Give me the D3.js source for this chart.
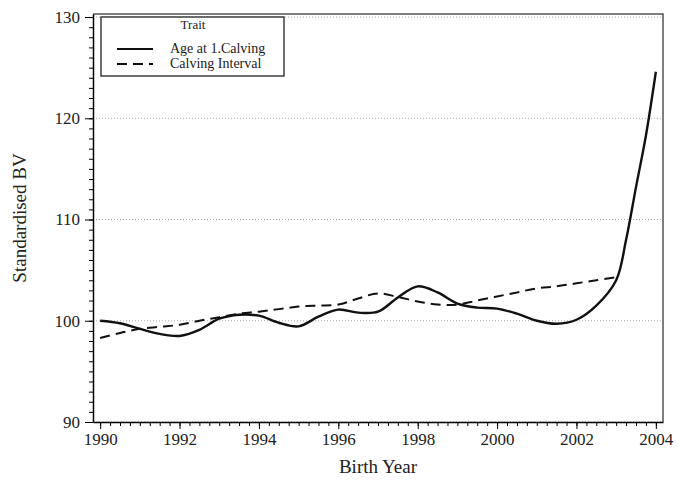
<!DOCTYPE html>
<html>
<head>
<meta charset="utf-8">
<script src="https://cdn.jsdelivr.net/npm/d3@7"></script>
<style>
  body { margin: 0; background: #fff; }
  svg text { font-family: "Liberation Serif", "DejaVu Serif", serif; fill: #222; }
</style>
</head>
<body>
<div class="chart"></div>
<script>
// Standardised breeding values by birth year, two traits.
var ageYears = [1990, 1990.5, 1991, 1991.5, 1992, 1992.5, 1993, 1993.5, 1994, 1994.5, 1995, 1995.5,
	1996, 1996.5, 1997, 1997.5, 1998, 1998.5, 1999, 1999.5, 2000, 2000.5, 2001, 2001.5, 2002, 2002.5,
	2003, 2003.25, 2003.5, 2003.75, 2004];
var ageValues = [100.0, 99.75, 99.2, 98.7, 98.5, 99.1, 100.2, 100.6, 100.5, 99.8, 99.45, 100.4,
	101.1, 100.8, 100.9, 102.3, 103.4, 102.8, 101.7, 101.3, 101.2, 100.7, 100.0, 99.7, 100.1, 101.5,
	104.0, 108.0, 113.2, 118.3, 124.6];

var intervalYears = [1990, 1990.5, 1991, 1991.5, 1992, 1992.5, 1993, 1993.5, 1994, 1994.5, 1995, 1995.5,
	1996, 1996.5, 1997, 1997.5, 1998, 1998.5, 1999, 1999.5, 2000, 2000.5, 2001, 2001.5, 2002, 2002.5, 2003];
var intervalValues = [98.3, 98.8, 99.2, 99.4, 99.6, 100.0, 100.35, 100.7, 100.9, 101.15, 101.4, 101.5,
	101.6, 102.2, 102.7, 102.35, 101.9, 101.6, 101.6, 102.0, 102.4, 102.8, 103.2, 103.4, 103.7, 104.0, 104.3];

var xTicks = [1990, 1992, 1994, 1996, 1998, 2000, 2002, 2004];
var yTicks = [90, 100, 110, 120, 130];
var seriesNames = ["Age at 1.Calving", "Calving Interval"];

var width = 678,
	height = 482,
	margin = {top: 14, right: 15, bottom: 60, left: 93},
	svg = d3.select(".chart").append("svg")
		.attr("width", width)
		.attr("height", height);

var x = d3.scaleLinear().domain([1989.82, 2004.18]).range([margin.left, width - margin.right]),
	y = d3.scaleLinear().domain([90, 130.3]).range([height - margin.bottom, margin.top]);

// dotted grid
svg.selectAll(".grid")
	.data(yTicks)
	.enter().append("line")
		.attr("class", "grid")
		.attr("x1", x.range()[0])
		.attr("x2", x.range()[1])
		.attr("y1", function(d) {return y(d);})
		.attr("y2", function(d) {return y(d);})
		.style("stroke", "#aaa")
		.style("stroke-width", 1)
		.style("stroke-dasharray", "1,2");

// frame top and right
svg.append("path")
	.attr("d", "M" + x.range()[0] + "," + y.range()[1] + "H" + x.range()[1] + "V" + y.range()[0])
	.style("fill", "none")
	.style("stroke", "#555")
	.style("stroke-width", 1.5);

// minor ticks
svg.append("g")
	.attr("transform", "translate(0," + y.range()[0] + ")")
	.call(d3.axisBottom(x).tickValues(d3.range(1990, 2004.01, 0.25)).tickSize(4).tickFormat(""))
	.call(function(g) {g.select(".domain").remove();});

svg.append("g")
	.attr("transform", "translate(" + x.range()[0] + ",0)")
	.call(d3.axisLeft(y).tickValues(d3.range(90, 130.01, 1)).tickSize(4).tickFormat(""))
	.call(function(g) {g.select(".domain").remove();});

// major axes
svg.append("g")
	.attr("class", "axis axis--x")
	.attr("transform", "translate(0," + y.range()[0] + ")")
	.style("font-size", "17px")
	.call(d3.axisBottom(x).tickValues(xTicks).tickFormat(d3.format("d")).tickSize(7).tickSizeOuter(0).tickPadding(4))
	.call(function(g) {g.select(".domain").style("stroke-width", 1.5);});

svg.append("g")
	.attr("class", "axis axis--y")
	.attr("transform", "translate(" + x.range()[0] + ",0)")
	.style("font-size", "17px")
	.call(d3.axisLeft(y).tickValues(yTicks).tickSize(8).tickSizeOuter(0).tickPadding(5))
	.call(function(g) {g.select(".domain").style("stroke-width", 1.5);});

svg.selectAll(".axis text").style("font-family", "Liberation Serif").attr("fill", "#222");

var line = d3.line()
	.x(function(d) {return x(d[0]);})
	.y(function(d) {return y(d[1]);})
	.curve(d3.curveCatmullRom.alpha(0.5));

svg.append("path")
	.datum(d3.zip(intervalYears, intervalValues))
	.attr("d", line)
	.style("fill", "none")
	.style("stroke", "#111")
	.style("stroke-width", 2)
	.style("stroke-dasharray", "10,6");

svg.append("path")
	.datum(d3.zip(ageYears, ageValues))
	.attr("d", line)
	.style("fill", "none")
	.style("stroke", "#111")
	.style("stroke-width", 2.4);

// legend
var legend = svg.append("g").attr("transform", "translate(101,17)");
legend.append("rect")
	.attr("width", 183)
	.attr("height", 59)
	.style("fill", "#fff")
	.style("stroke", "#222")
	.style("stroke-width", 1.3);
legend.append("text")
	.attr("x", 92)
	.attr("y", 12)
	.style("text-anchor", "middle")
	.style("font-size", "13px")
	.text("Trait");
legend.selectAll(".legline")
	.data(seriesNames)
	.enter().append("line")
		.attr("x1", 16)
		.attr("x2", 52)
		.attr("y1", function(d, i) {return 32 + i * 15;})
		.attr("y2", function(d, i) {return 32 + i * 15;})
		.style("stroke", "#111")
		.style("stroke-width", 2)
		.style("stroke-dasharray", function(d, i) {return i ? "10,6" : null;});
legend.selectAll(".legtext")
	.data(seriesNames)
	.enter().append("text")
		.attr("x", 69)
		.attr("y", function(d, i) {return 36 + i * 15;})
		.style("font-size", "14px")
		.text(function(d) {return d;});

// axis titles
svg.append("text")
	.attr("transform", "translate(" + ((x.range()[0] + x.range()[1]) / 2) + "," + 473 + ")")
	.style("text-anchor", "middle")
	.style("font-size", "19px")
	.text("Birth Year");

svg.append("text")
	.attr("transform", "translate(26," + ((y.range()[0] + y.range()[1]) / 2) + ") rotate(-90)")
	.style("text-anchor", "middle")
	.style("font-size", "19px")
	.text("Standardised BV");
</script>
</body>
</html>
